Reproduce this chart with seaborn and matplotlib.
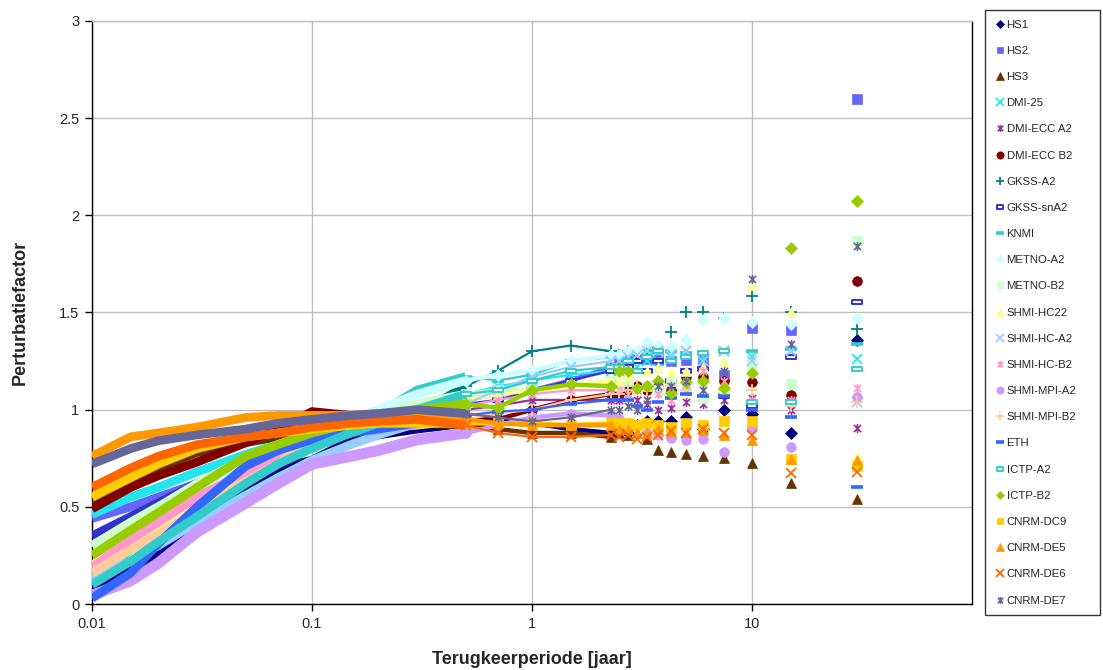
import matplotlib
matplotlib.use("Agg")
import matplotlib.pyplot as plt
from matplotlib.path import Path
from matplotlib.lines import Line2D
from matplotlib.ticker import FixedLocator, NullLocator
import seaborn as sns

# ---------------- data ----------------
X_CURVE = [0.01, 0.015, 0.02, 0.03, 0.05, 0.07, 0.1, 0.15, 0.2, 0.3, 0.5, 0.7, 1.0, 1.5, 2.3]
X_POINTS = [2.5, 2.73, 3.0, 3.33, 3.75, 4.29, 5.0, 6.0, 7.5, 10.0, 15.0, 30.0]

SERIES = ["HS1", "HS2", "HS3", "DMI-25", "DMI-ECC A2", "DMI-ECC B2", "GKSS-A2",
          "GKSS-snA2", "KNMI", "METNO-A2", "METNO-B2", "SHMI-HC22", "SHMI-HC-A2",
          "SHMI-HC-B2", "SHMI-MPI-A2", "SHMI-MPI-B2", "ETH", "ICTP-A2", "ICTP-B2",
          "CNRM-DC9", "CNRM-DE5", "CNRM-DE6", "CNRM-DE7"]

HS1_CURVE = [0.08, 0.17, 0.25, 0.38, 0.6, 0.7, 0.74, 0.84, 0.87, 0.9, 0.93, 0.95, 0.93, 0.9, 0.88]
HS1_POINTS = [0.9, 0.88, 0.92, 0.94, 0.94, 0.94, 0.96, 0.9, 1.0, 0.98, 0.88, 1.36]
HS2_CURVE = [0.44, 0.5, 0.55, 0.62, 0.7, 0.76, 0.82, 0.88, 0.92, 0.98, 1.05, 1.08, 1.1, 1.15, 1.22]
HS2_POINTS = [1.25, 1.25, 1.27, 1.26, 1.255, 1.25, 1.255, 1.255, 1.18, 1.42, 1.41, 2.6]
HS3_CURVE = [0.5, 0.62, 0.7, 0.78, 0.83, 0.86, 0.9, 0.92, 0.93, 0.93, 0.92, 0.9, 0.88, 0.88, 0.86]
HS3_POINTS = [0.88, 0.87, 0.88, 0.85, 0.79, 0.78, 0.77, 0.76, 0.75, 0.725, 0.625, 0.54]
DMI25_CURVE = [0.46, 0.55, 0.6, 0.68, 0.77, 0.82, 0.86, 0.9, 0.94, 1.0, 1.08, 1.12, 1.15, 1.18, 1.2]
DMI25_POINTS = [1.2, 1.22, 1.22, 1.25, 1.25, 1.27, 1.3, 1.27, 1.3, 1.27, 1.3, 1.26]
DMIA2_CURVE = [0.3, 0.42, 0.5, 0.62, 0.74, 0.8, 0.86, 0.9, 0.93, 0.97, 1.0, 1.02, 1.05, 1.05, 1.05]
DMIA2_POINTS = [1.05, 1.08, 1.05, 1.03, 1.0, 1.01, 1.04, 1.03, 1.05, 1.06, 1.0, 0.905]
DMIB2_CURVE = [0.49, 0.6, 0.66, 0.73, 0.83, 0.9, 0.99, 0.97, 0.97, 0.97, 0.95, 0.95, 1.0, 1.05, 1.08]
DMIB2_POINTS = [1.08, 1.1, 1.12, 1.1, 1.12, 1.1, 1.17, 1.17, 1.15, 1.14, 1.075, 1.66]
GKSSA2_CURVE = [0.2, 0.32, 0.42, 0.55, 0.7, 0.78, 0.85, 0.9, 0.93, 0.98, 1.12, 1.2, 1.3, 1.33, 1.3]
GKSSA2_POINTS = [1.28, 1.3, 1.28, 1.3, 1.32, 1.4, 1.5, 1.5, 1.47, 1.585, 1.5, 1.415]
GKSSSN_CURVE = [0.35, 0.45, 0.52, 0.62, 0.73, 0.8, 0.86, 0.9, 0.93, 0.97, 1.03, 1.05, 1.1, 1.15, 1.2]
GKSSSN_POINTS = [1.2, 1.22, 1.25, 1.2, 1.25, 1.15, 1.2, 1.21, 1.07, 1.02, 1.27, 1.555]
KNMI_CURVE = [0.11, 0.28, 0.4, 0.55, 0.7, 0.77, 0.84, 0.92, 0.98, 1.1, 1.17, 1.15, 1.18, 1.25, 1.27]
KNMI_POINTS = [1.27, 1.28, 1.3, 1.3, 1.29, 1.3, 1.29, 1.29, 1.3, 1.3, 1.31, 1.34]
META2_CURVE = [0.3, 0.42, 0.5, 0.6, 0.72, 0.8, 0.88, 0.95, 1.0, 1.08, 1.15, 1.18, 1.2, 1.25, 1.28]
META2_POINTS = [1.28, 1.3, 1.3, 1.35, 1.33, 1.33, 1.36, 1.46, 1.47, 1.45, 1.44, 1.47]
METB2_CURVE = [0.3, 0.42, 0.5, 0.62, 0.75, 0.82, 0.88, 0.93, 0.97, 1.03, 1.08, 1.1, 1.1, 1.12, 1.15]
METB2_POINTS = [1.12, 1.15, 1.1, 1.12, 1.1, 1.15, 1.1, 1.06, 1.1, 1.23, 1.13, 1.87]
HC22_CURVE = [0.2, 0.32, 0.4, 0.52, 0.68, 0.76, 0.84, 0.9, 0.95, 1.0, 1.05, 1.08, 1.1, 1.12, 1.15]
HC22_POINTS = [1.15, 1.18, 1.1, 1.2, 1.22, 1.2, 1.2, 1.22, 1.25, 1.64, 1.5, 0.76]
HCA2_CURVE = [0.13, 0.22, 0.3, 0.42, 0.56, 0.65, 0.74, 0.82, 0.87, 0.93, 1.03, 1.1, 1.17, 1.22, 1.25]
HCA2_POINTS = [1.25, 1.27, 1.28, 1.3, 1.3, 1.28, 1.3, 1.25, 1.3, 1.25, 1.3, 1.04]
HCB2_CURVE = [0.19, 0.33, 0.42, 0.55, 0.68, 0.75, 0.82, 0.88, 0.91, 0.96, 1.02, 1.05, 1.08, 1.1, 1.1]
HCB2_POINTS = [1.1, 1.08, 1.1, 1.12, 1.08, 1.05, 1.1, 1.2, 1.15, 1.05, 1.05, 1.11]
MPIA2_CURVE = [0.045, 0.12, 0.21, 0.37, 0.52, 0.62, 0.72, 0.76, 0.79, 0.845, 0.88, 0.92, 0.96, 0.98, 0.97]
MPIA2_POINTS = [0.95, 0.9, 0.92, 0.88, 0.87, 0.855, 0.845, 0.85, 0.78, 0.905, 0.81, 1.065]
MPIB2_CURVE = [0.16, 0.28, 0.36, 0.48, 0.63, 0.72, 0.86, 0.9, 0.91, 0.92, 0.95, 0.98, 1.0, 1.05, 1.08]
MPIB2_POINTS = [1.08, 1.1, 1.12, 1.1, 1.15, 1.12, 1.1, 1.15, 1.1, 1.1, 1.02, 1.04]
ETH_CURVE = [0.03, 0.16, 0.31, 0.5, 0.71, 0.79, 0.845, 0.88, 0.9, 0.93, 0.97, 0.99, 1.0, 1.03, 1.05]
ETH_POINTS = [1.05, 1.05, 1.02, 1.0, 1.04, 1.06, 1.08, 1.07, 1.07, 1.0, 0.96, 0.6]
ICTPA2_CURVE = [0.1, 0.22, 0.32, 0.45, 0.62, 0.72, 0.8, 0.88, 0.93, 1.0, 1.08, 1.1, 1.15, 1.2, 1.22]
ICTPA2_POINTS = [1.22, 1.25, 1.2, 1.27, 1.3, 1.25, 1.27, 1.29, 1.3, 1.04, 1.04, 1.21]
ICTPB2_CURVE = [0.25, 0.38, 0.47, 0.6, 0.76, 0.82, 0.88, 0.93, 0.96, 1.0, 1.03, 1.01, 1.1, 1.13, 1.12]
ICTPB2_POINTS = [1.2, 1.2, 1.11, 1.12, 1.15, 1.085, 1.14, 1.15, 1.11, 1.19, 1.83, 2.075]
DC9_CURVE = [0.55, 0.65, 0.72, 0.8, 0.86, 0.88, 0.9, 0.92, 0.93, 0.93, 0.93, 0.93, 0.93, 0.92, 0.93]
DC9_POINTS = [0.93, 0.93, 0.92, 0.93, 0.92, 0.91, 0.93, 0.92, 0.94, 0.94, 0.745, 0.71]
DE5_CURVE = [0.76, 0.86, 0.88, 0.91, 0.96, 0.97, 0.97, 0.97, 0.98, 0.97, 0.95, 0.93, 0.92, 0.92, 0.92]
DE5_POINTS = [0.9, 0.9, 0.88, 0.88, 0.9, 0.885, 0.885, 0.895, 0.87, 0.845, 0.745, 0.74]
DE6_CURVE = [0.6, 0.7, 0.76, 0.82, 0.86, 0.88, 0.91, 0.93, 0.94, 0.95, 0.92, 0.88, 0.86, 0.86, 0.87]
DE6_POINTS = [0.86, 0.87, 0.85, 0.86, 0.87, 0.89, 0.88, 0.9, 0.88, 0.87, 0.675, 0.68]
DE7_CURVE = [0.72, 0.8, 0.84, 0.87, 0.9, 0.93, 0.95, 0.97, 0.98, 1.0, 0.98, 0.96, 0.94, 0.96, 1.0]
DE7_POINTS = [1.0, 1.02, 1.0, 1.05, 1.12, 1.12, 1.15, 1.1, 1.2, 1.67, 1.34, 1.84]

CURVES = [HS1_CURVE, HS2_CURVE, HS3_CURVE, DMI25_CURVE, DMIA2_CURVE, DMIB2_CURVE,
          GKSSA2_CURVE, GKSSSN_CURVE, KNMI_CURVE, META2_CURVE, METB2_CURVE, HC22_CURVE,
          HCA2_CURVE, HCB2_CURVE, MPIA2_CURVE, MPIB2_CURVE, ETH_CURVE, ICTPA2_CURVE,
          ICTPB2_CURVE, DC9_CURVE, DE5_CURVE, DE6_CURVE, DE7_CURVE]
POINTS = [HS1_POINTS, HS2_POINTS, HS3_POINTS, DMI25_POINTS, DMIA2_POINTS, DMIB2_POINTS,
          GKSSA2_POINTS, GKSSSN_POINTS, KNMI_POINTS, META2_POINTS, METB2_POINTS, HC22_POINTS,
          HCA2_POINTS, HCB2_POINTS, MPIA2_POINTS, MPIB2_POINTS, ETH_POINTS, ICTPA2_POINTS,
          ICTPB2_POINTS, DC9_POINTS, DE5_POINTS, DE6_POINTS, DE7_POINTS]

X_TICKS = [0.01, 0.1, 1, 10]
X_TICKLABELS = ["0.01", "0.1", "1", "10"]
Y_TICKS = [0, 0.5, 1, 1.5, 2, 2.5, 3]
Y_TICKLABELS = ["0", "0.5", "1", "1.5", "2", "2.5", "3"]

# ---------------- styles ----------------
STAR = Path([(-1, -1), (1, 1), (-1, 1), (1, -1), (0, -1.25), (0, 1.25)],
            [Path.MOVETO, Path.LINETO, Path.MOVETO, Path.LINETO, Path.MOVETO, Path.LINETO])
RECT = Path([(-1, -0.45), (1, -0.45), (1, 0.45), (-1, 0.45), (-1, -0.45)],
            [Path.MOVETO, Path.LINETO, Path.LINETO, Path.LINETO, Path.CLOSEPOLY])

COLORS = ["#000080", "#6666FF", "#663300", "#22E5EE", "#993399", "#800000", "#008080",
          "#3333CC", "#33CCCC", "#CCFFFF", "#CCFFCC", "#FFFF99", "#99CCFF", "#FF99CC",
          "#CC99FF", "#FFCC99", "#3366FF", "#33CCCC", "#99CC00", "#FFCC00", "#FF9900",
          "#FF6600", "#666699"]
MARKERS = ["D", "s", "^", "x", STAR, "o", "+", RECT, "_", "D", "s", "^", "x", STAR,
           "o", "+", "_", RECT, "D", "s", "^", "x", STAR]
OPEN = {"x", "+", "_"}
SPLIT = 10  # curve index where the dense band turns into separate markers

sns.set_theme(style="white")
plt.rcParams["font.family"] = ["Liberation Sans", "DejaVu Sans"]

fig = plt.figure(figsize=(11.03, 6.70), dpi=100)
ax = fig.add_axes([0.0834, 0.0985, 0.7977, 0.8702])
ax.set_xscale("log")


def mstyle(m, c, big=1.0):
    if isinstance(m, str) and m in OPEN:
        ms = {"x": 7, "+": 8, "_": 8}[m] * big
        return dict(marker=m, markersize=ms, markeredgecolor=c, markerfacecolor=c,
                    markeredgewidth=1.3 if m != "_" else 2.6)
    if m is STAR:
        return dict(marker=m, markersize=6.5 * big, markeredgecolor=c, markerfacecolor="none",
                    markeredgewidth=1.2)
    if m is RECT:
        return dict(marker=m, markersize=6.5 * big, markeredgecolor=c, markerfacecolor="white",
                    markeredgewidth=1.4)
    ms = {"D": 6, "s": 6.5, "^": 7, "o": 7}[m] * big
    return dict(marker=m, markersize=ms, markeredgecolor=c, markerfacecolor=c,
                markeredgewidth=0.5)


for i, name in enumerate(SERIES):
    c = COLORS[i]
    m = MARKERS[i]
    lw = 8 if name == "SHMI-MPI-A2" else 6.3
    is_open = (m is STAR) or (isinstance(m, str) and m in OPEN) or (m is RECT)
    z = 3 + i * 0.01
    # dense low-return-period band
    sns.lineplot(x=X_CURVE[:SPLIT + 1], y=CURVES[i][:SPLIT + 1], ax=ax, color=c, lw=lw,
                 estimator=None, sort=False, legend=False, solid_capstyle="butt",
                 solid_joinstyle="round", zorder=z)
    # thinning band towards 1-2 years, with markers at the readings
    sns.lineplot(x=X_CURVE[SPLIT:], y=CURVES[i][SPLIT:], ax=ax, color=c,
                 lw=(1.6 if is_open else 3.2), estimator=None, sort=False, legend=False,
                 solid_capstyle="round", zorder=z, **mstyle(m, c))
    # sparse points at long return periods
    sns.lineplot(x=X_POINTS, y=POINTS[i], ax=ax, color=c, linestyle="", estimator=None,
                 sort=False, legend=False, zorder=z, **mstyle(m, c))

ax.set_xlim(0.01, 100)
ax.set_ylim(0, 3)
ax.xaxis.set_major_locator(FixedLocator(X_TICKS))
ax.xaxis.set_minor_locator(NullLocator())
ax.set_xticklabels(X_TICKLABELS)
ax.set_yticks(Y_TICKS)
ax.set_yticklabels(Y_TICKLABELS)
ax.tick_params(axis="both", labelsize=10.5, direction="out", length=5, width=1,
               color="black", pad=4, left=True, bottom=True)
ax.grid(True, which="major", color="#BEBEBE", lw=1)
ax.set_axisbelow(True)
for s in ["left", "bottom", "right"]:
    ax.spines[s].set_color("black")
    ax.spines[s].set_linewidth(1)
ax.spines["top"].set_color("#BEBEBE")
ax.spines["top"].set_linewidth(1)

ax.set_xlabel("Terugkeerperiode [jaar]", fontsize=13, fontweight="bold", labelpad=15)
ax.set_ylabel("Perturbatiefactor", fontsize=13, fontweight="bold", labelpad=22)

handles = []
for i, name in enumerate(SERIES):
    st = mstyle(MARKERS[i], COLORS[i], big=0.75)
    handles.append(Line2D([0], [0], linestyle="", color=COLORS[i], **st))

leg = fig.legend(handles, SERIES, loc="upper left", bbox_to_anchor=(0.893, 0.985, 0.104, 0.0),
                 mode="expand", frameon=True, fancybox=False, fontsize=8.2,
                 labelspacing=1.42, handlelength=0.9, handletextpad=0.15,
                 borderpad=0.85, borderaxespad=0.0)
leg.get_frame().set_edgecolor("black")
leg.get_frame().set_linewidth(1)

fig.savefig("out.png", dpi=100)
